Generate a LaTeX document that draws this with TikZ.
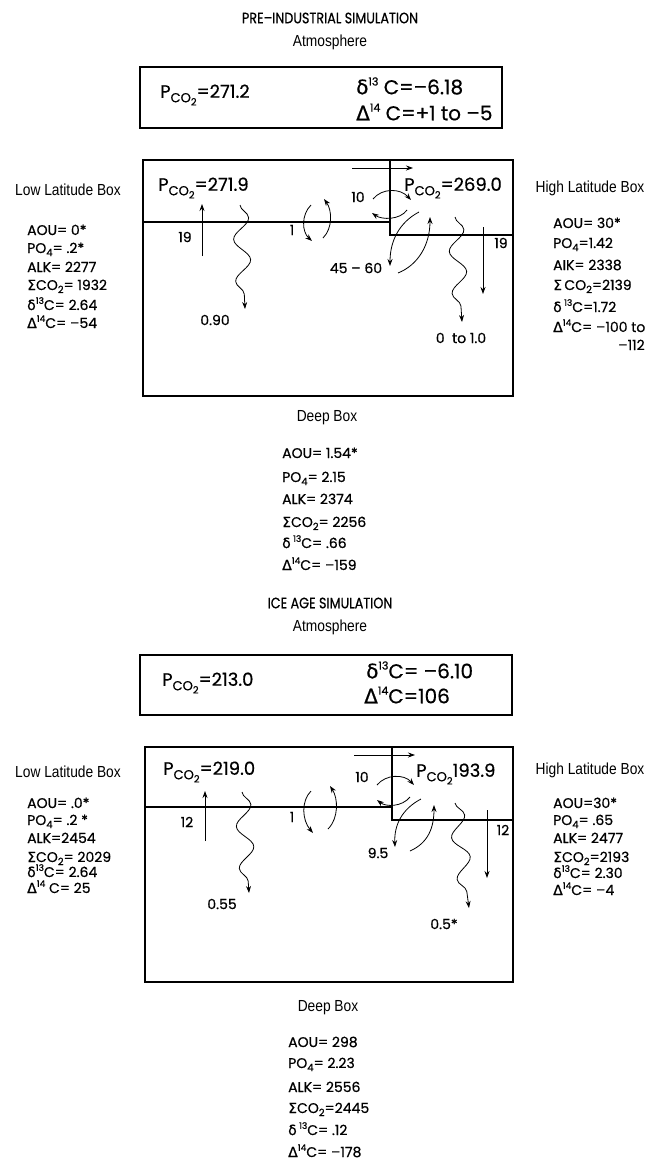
\documentclass[tikz,border=0pt]{standalone}
\usepackage{fontspec}
\setmainfont{Poppins}[FakeBold=0.6]
\newfontfamily\gk[FakeBold=0.6]{DejaVu Sans}
\newfontfamily\cond[FakeStretch=0.86]{Liberation Sans}
\newfontfamily\ttlfont[FakeStretch=0.85,FakeBold=0.6]{Poppins}
\usetikzlibrary{arrows.meta,decorations.pathmorphing}
\newcommand\Sg{{\gk Σ}}
\newcommand\dl{{\gk δ}}
\newcommand\Dl{{\gk Δ}}
\newcommand\lo[1]{\raisebox{-0.4ex}{\fontsize{10}{10}\selectfont #1}}
\newcommand\hi[1]{\raisebox{0.8ex}{\fontsize{9}{9}\selectfont #1}}
\newcommand\hib[1]{\raisebox{0.8ex}{\fontsize{11}{11}\selectfont #1}}
\newcommand\pco{P\raisebox{-0.45ex}{\fontsize{13}{13}\selectfont CO\raisebox{-0.45ex}{\fontsize{10}{10}\selectfont 2}}}
\begin{document}
\begin{tikzpicture}[x=1pt,y=-1pt,
  ttl/.style={font=\ttlfont\fontsize{15}{17}\selectfont, inner sep=0},
  lbl/.style={font=\cond\fontsize{16}{18}\selectfont, inner sep=0},
  dat/.style={font=\fontsize{14}{16}\selectfont, anchor=base west, inner sep=0},
  num/.style={font=\fontsize{14}{16}\selectfont, inner sep=0},
  big/.style={font=\fontsize{18}{20}\selectfont, anchor=west, inner sep=0},
  iso/.style={font=\fontsize{20}{22}\selectfont, anchor=west, inner sep=0},
  frame/.style={draw, line width=1.1pt},
  arr/.style={-{Stealth[length=7pt,width=5pt]}, line width=0.8pt},
  wav/.style={decorate, decoration={snake, segment length=42pt, amplitude=8pt, post length=10pt}}]
\path[use as bounding box] (0,0) rectangle (657,1162);

% ================= PRE-INDUSTRIAL =================
\node[ttl] (ttitle) at (330,18) {PRE–INDUSTRIAL SIMULATION};
\node[lbl] (tatm) at (330,42) {Atmosphere};
\draw[frame] (140,67) rectangle (502,128);
\node[big] (tpa) at (160,95) {\pco=271.2};
\node[iso] (tda) at (356,86) {\dl\hib{13} C=–6.18};
\node[iso] (tDa) at (356,112) {\Dl\hib{14} C=+1 to –5};

\draw[frame] (143,160) rectangle (513,396);
\draw[frame] (143,222) -- (390,222);
\draw[frame] (390,160) -- (390,235) -- (513,235);

\node[big] (tpl) at (158,188) {\pco=271.9};
\node[big] (tph) at (404,188) {\pco=269.0};

\draw[arr] (352,168) -- (413,168);
\node[num] (t19a) at (185,237) {19};
\draw[arr] (202,256) -- (202,204);
\draw[arr,wav] (240,205) -- (245,309);
\node[num] (t090) at (215,320) {0.90};
\node[num] (t1) at (292,230) {1};
\draw[arr] (311,205) .. controls (301,215) and (302,232) .. (312,241);
\draw[arr] (323,238) .. controls (333,228) and (332,210) .. (324,199);
\node[num] (t10) at (358,197) {10};
\draw[arr] (373,199) .. controls (382,188) and (400,188) .. (411,200);
\draw[arr] (407,210) .. controls (400,220) and (382,220) .. (372,213);
\draw[arr] (419,212) .. controls (400,222) and (390,240) .. (390,266);
\draw[arr] (398,273) .. controls (418,265) and (430,245) .. (430,217);
\node[num] (t4560) at (356,268) {45 – 60};
\draw[arr,wav] (455,217) -- (462,322);
\node[num] (t0to1) at (461,338) {0 \ to 1.0};
\draw[arr] (483,227) -- (483,294);
\node[num] (t19b) at (501,243) {19};

\node[lbl] (tlow) at (68,190) {Low Latitude Box};
\node[dat] (tl1) at (27,235) {AOU= 0*};
\node[dat] (tl2) at (27,253) {PO\lo{4}= .2*};
\node[dat] (tl3) at (27,272) {ALK= 2277};
\node[dat] (tl4) at (27,290) {\Sg CO\lo{2}= 1932};
\node[dat] (tl5) at (27,310) {\dl\hi{13}C= 2.64};
\node[dat] (tl6) at (27,328) {\Dl\hi{14}C= –54};

\node[lbl] (thigh) at (590,188) {High Latitude Box};
\node[dat] (th1) at (553,228) {AOU= 30*};
\node[dat] (th2) at (553,248) {PO\lo{4}=1.42};
\node[dat] (th3) at (553,270) {AIK= 2338};
\node[dat] (th4) at (553,290) {\Sg\,CO\lo{2}=2139};
\node[dat] (th5) at (553,312) {\dl\,\hi{13}C=1.72};
\node[dat] (th6) at (553,332) {\Dl\hi{14}C= –100 to};
\node[dat] (th7) at (618,350) {–112};

\node[lbl] (tdeep) at (327,418) {Deep Box};
\node[dat] (td1) at (282,458) {AOU= 1.54*};
\node[dat] (td2) at (282,482) {PO\lo{4}= 2.15};
\node[dat] (td3) at (282,504) {ALK= 2374};
\node[dat] (td4) at (282,527) {\Sg CO\lo{2}= 2256};
\node[dat] (td5) at (282,548) {\dl\,\hi{13}C= .66};
\node[dat] (td6) at (282,570) {\Dl\hi{14}C= –159};

% ================= ICE AGE =================
\node[ttl] (btitle) at (330,603) {ICE AGE SIMULATION};
\node[lbl] (batm) at (330,627) {Atmosphere};
\draw[frame] (140,655) rectangle (512,715);
\node[big] (bpa) at (162,683) {\pco=213.0};
\node[iso] (bda) at (366,670) {\dl\hib{13}C= –6.10};
\node[iso] (bDa) at (364,695) {\Dl\hib{14}C=106};

\draw[frame] (145,747) rectangle (513,982);
\draw[frame] (145,807) -- (392,807);
\draw[frame] (392,747) -- (392,820) -- (513,820);

\node[big] (bpl) at (163,772) {\pco=219.0};
\node[big] (bph) at (416,774) {\pco193.9};

\draw[arr] (354,755) -- (415,755);
\node[num] (b12a) at (187,822) {12};
\draw[arr] (205,841) -- (205,791);
\draw[arr,wav] (242,792) -- (249,893);
\node[num] (b055) at (222,904) {0.55};
\node[num] (b1) at (292,817) {1};
\draw[arr] (311,791) .. controls (301,801) and (302,820) .. (313,833);
\draw[arr] (328,829) .. controls (339,818) and (338,798) .. (330,786);
\node[num] (b10) at (362,777) {10};
\draw[arr] (377,785) .. controls (386,774) and (404,774) .. (414,785);
\draw[arr] (410,797) .. controls (402,807) and (386,807) .. (377,800);
\draw[arr] (421,799) .. controls (402,809) and (394,825) .. (395,847);
\draw[arr] (410,851) .. controls (428,843) and (434,828) .. (434,805);
\node[num] (b95) at (378,853) {9.5};
\draw[arr,wav] (455,803) -- (469,908);
\node[num] (b05) at (444,924) {0.5*};
\draw[arr] (487,810) -- (487,878);
\node[num] (b12b) at (503,830) {12};

\node[lbl] (blow) at (68,772) {Low Latitude Box};
\node[dat] (bl1) at (27,808) {AOU= .0*};
\node[dat] (bl2) at (27,825) {PO\lo{4}= .2 *};
\node[dat] (bl3) at (27,843) {ALK=2454};
\node[dat] (bl4) at (27,862) {\Sg CO\lo{2}= 2029};
\node[dat] (bl5) at (27,877) {\dl\hi{13}C= 2.64};
\node[dat] (bl6) at (27,893) {\Dl\hi{14} C= 25};

\node[lbl] (bhigh) at (590,770) {High Latitude Box};
\node[dat] (bh1) at (553,808) {AOU=30*};
\node[dat] (bh2) at (553,825) {PO\lo{4}= .65};
\node[dat] (bh3) at (553,843) {ALK= 2477};
\node[dat] (bh4) at (553,862) {\Sg CO\lo{2}=2193};
\node[dat] (bh5) at (553,878) {\dl\hi{13}C= 2.30};
\node[dat] (bh6) at (553,895) {\Dl\hi{14}C= –4};

\node[lbl] (bdeep) at (328,1008) {Deep Box};
\node[dat] (bd1) at (288,1047) {AOU= 298};
\node[dat] (bd2) at (288,1068) {PO\lo{4}= 2.23};
\node[dat] (bd3) at (288,1092) {ALK= 2556};
\node[dat] (bd4) at (288,1113) {\Sg CO\lo{2}=2445};
\node[dat] (bd5) at (288,1135) {\dl\,\hi{13}C= .12};
\node[dat] (bd6) at (288,1157) {\Dl\hi{14}C= –178};
\end{tikzpicture}
\end{document}
